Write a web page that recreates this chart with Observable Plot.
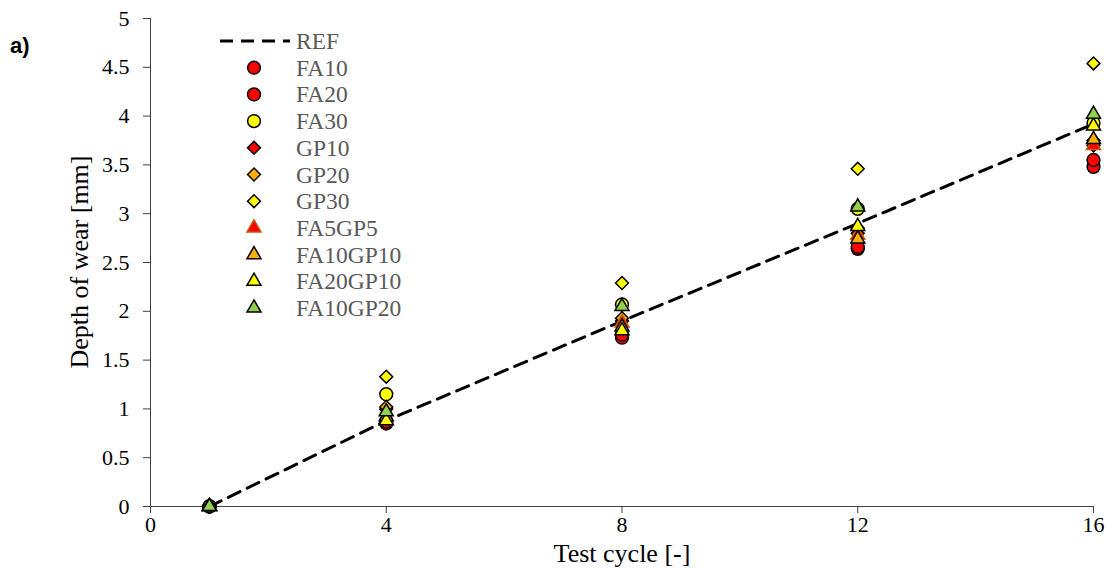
<!DOCTYPE html>
<html>
<head>
<meta charset="utf-8">
<script src="https://cdn.jsdelivr.net/npm/d3@7"></script>
<script src="https://cdn.jsdelivr.net/npm/@observablehq/plot@0.6"></script>
<style>
  html, body { margin: 0; padding: 0; background: #fff; }
  #chart { position: relative; width: 1106px; height: 569px; }
</style>
</head>
<body>
<div id="chart"></div>
<script>
const cycles = [1, 4, 8, 12, 16];
const refValues = [0, 0.88, 1.9, 2.9, 3.92];
const seriesNames = ["FA10", "FA20", "FA30", "GP10", "GP20", "GP30", "FA5GP5", "FA10GP10", "FA20GP10", "FA10GP20"];
const FA10 = [0, 0.85, 1.73, 2.64, 3.48];
const FA20 = [0, 0.87, 1.76, 2.66, 3.55];
const FA30 = [0, 1.15, 2.07, 3.05, 3.93];
const GP10 = [0, 1.00, 1.90, 2.80, 3.70];
const GP20 = [0, 1.02, 1.93, 2.85, 3.75];
const GP30 = [0, 1.33, 2.29, 3.46, 4.54];
const FA5GP5 = [0, 0.88, 1.88, 2.78, 3.70];
const FA10GP10 = [0, 0.92, 1.84, 2.74, 3.76];
const FA20GP10 = [0, 0.88, 1.80, 2.87, 3.90];
const FA10GP20 = [0, 0.97, 2.05, 3.07, 4.02];
const seriesValues = [FA10, FA20, FA30, GP10, GP20, GP30, FA5GP5, FA10GP10, FA20GP10, FA10GP20];
const seriesFill = ["#FF0000", "#FF0000", "#FFFF00", "#FF0000", "#FFB000", "#FFFF00", "#FF0000", "#FFB000", "#FFFF00", "#92D050"];
const seriesStroke = ["#000", "#000", "#000", "#000", "#000", "#000", "#C55A11", "#000", "#000", "#000"];
const seriesSymbol = ["circle", "circle", "circle", "diamond2", "diamond2", "diamond2", "triangle", "triangle", "triangle", "triangle"];
const seriesR = [6.4, 6.4, 6.4, 5.8, 5.8, 5.8, 5.2, 5.2, 5.2, 5.2];
const xTicks = [0, 4, 8, 12, 16];
const yTicks = [0, 0.5, 1, 1.5, 2, 2.5, 3, 3.5, 4, 4.5, 5];
const xTitle = "Test cycle [-]";
const yTitle = "Depth of wear [mm]";
const panelTag = "a)";

const refData = cycles.map((c, i) => ({x: c, y: refValues[i]}));
const dotMarks = seriesNames.map((name, s) =>
  Plot.dot(cycles.map((c, i) => ({x: c, y: seriesValues[s][i]})), {
    x: "x", y: "y", r: seriesR[s], symbol: () => seriesSymbol[s],
    fill: seriesFill[s], stroke: seriesStroke[s], strokeWidth: 1.5
  })
);

const serif = "'Liberation Serif', 'Times New Roman', serif";
const plot = Plot.plot({
  width: 1106, height: 569,
  marginLeft: 150, marginRight: 13, marginTop: 18, marginBottom: 63,
  style: {fontFamily: serif, fontSize: "22px", color: "#000", background: "#fff"},
  x: {domain: [0, 16]},
  y: {domain: [0, 5]},
  symbol: {type: "identity"},
  marks: [
    Plot.axisX({ticks: xTicks, tickSize: 7, tickPadding: 3, tickFormat: d => String(d), label: null, fontSize: 22, stroke: "#404040"}),
    Plot.axisY({ticks: yTicks, tickSize: 7, tickPadding: 14, tickFormat: d => String(d), label: null, fontSize: 22, stroke: "#404040"}),
    Plot.ruleX([0], {stroke: "#404040", strokeWidth: 1}),
    Plot.ruleY([0], {stroke: "#404040", strokeWidth: 1}),
    Plot.line(refData, {x: "x", y: "y", stroke: "#000", strokeWidth: 3, strokeDasharray: "13,8"}),
    ...dotMarks
  ]
});
document.getElementById("chart").appendChild(plot);

const svg = d3.select(plot);
// axis titles
svg.append("text").attr("x", 622).attr("y", 562).attr("text-anchor", "middle")
  .style("font-family", serif).style("font-size", "26px").attr("fill", "#000").text(xTitle);
svg.append("text").attr("transform", "translate(88,262) rotate(-90)").attr("text-anchor", "middle")
  .style("font-family", serif).style("font-size", "26px").attr("fill", "#000").text(yTitle);

// Legend
const lg = svg.append("g").attr("class", "legend")
  .style("font-family", serif).style("font-size", "23.5px").attr("text-anchor", "start");
const symMap = {circle: d3.symbolCircle, diamond2: d3.symbolDiamond2, triangle: d3.symbolTriangle};
lg.append("line").attr("x1", 220).attr("x2", 290).attr("y1", 41).attr("y2", 41)
  .attr("stroke", "#000").attr("stroke-width", 3).attr("stroke-dasharray", "13,8");
lg.append("text").attr("x", 296).attr("y", 49).attr("fill", "#595959").attr("text-anchor", "start").text("REF");
seriesNames.forEach((name, s) => {
  const y = 41 + 26.7 * (s + 1);
  const r = seriesR[s];
  lg.append("path")
    .attr("transform", `translate(254,${y})`)
    .attr("d", d3.symbol(symMap[seriesSymbol[s]], Math.PI * r * r)())
    .attr("fill", seriesFill[s]).attr("stroke", seriesStroke[s]).attr("stroke-width", 1.5);
  lg.append("text").attr("x", 296).attr("y", y + 8).attr("fill", "#595959").attr("text-anchor", "start").text(name);
});
svg.append("text").attr("x", 10).attr("y", 53).attr("text-anchor", "start")
  .style("font-family", "'Liberation Sans', Arial, sans-serif").style("font-weight", "bold").style("font-size", "22px")
  .text(panelTag);
</script>
</body>
</html>
